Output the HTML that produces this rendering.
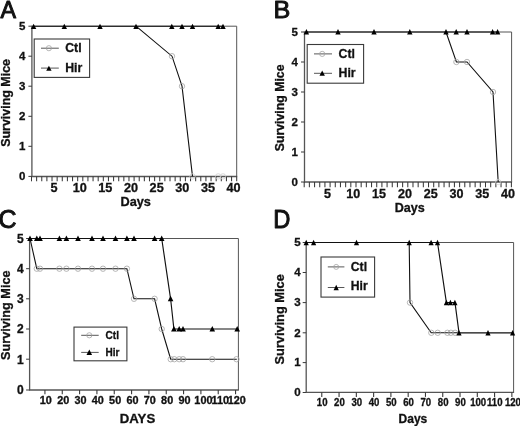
<!DOCTYPE html>
<html><head><meta charset="utf-8"><title>Surviving Mice</title>
<style>html,body{margin:0;padding:0;background:#fff}svg{display:block;filter:blur(0.35px)}text{font-family:"Liberation Sans",Arial,Helvetica,sans-serif;fill:#111;stroke:#111;stroke-width:0.3px}</style>
</head><body>
<svg width="520" height="426" viewBox="0 0 520 426">
<rect width="520" height="426" fill="#fff"/>
<path d="M31.9 26.2H236.7V176.5" fill="none" stroke="#555" stroke-width="1"/>
<path d="M31.9 25.7V176.5H237.2" fill="none" stroke="#555" stroke-width="1.3"/>
<path d="M28.4 26.2H31.9" stroke="#3a3a3a" stroke-width="1"/>
<text x="25.30" y="29.92" font-size="11.5" font-weight="bold" text-anchor="end" >5</text>
<path d="M28.4 56.2H31.9" stroke="#3a3a3a" stroke-width="1"/>
<text x="25.30" y="59.92" font-size="11.5" font-weight="bold" text-anchor="end" >4</text>
<path d="M28.4 86.2H31.9" stroke="#3a3a3a" stroke-width="1"/>
<text x="25.30" y="89.92" font-size="11.5" font-weight="bold" text-anchor="end" >3</text>
<path d="M28.4 116.3H31.9" stroke="#3a3a3a" stroke-width="1"/>
<text x="25.30" y="120.02" font-size="11.5" font-weight="bold" text-anchor="end" >2</text>
<path d="M28.4 146.3H31.9" stroke="#3a3a3a" stroke-width="1"/>
<text x="25.30" y="150.02" font-size="11.5" font-weight="bold" text-anchor="end" >1</text>
<path d="M28.4 176.4H31.9" stroke="#3a3a3a" stroke-width="1"/>
<text x="25.30" y="180.12" font-size="11.5" font-weight="bold" text-anchor="end" >0</text>
<path d="M31.50 176.5V181.3" stroke="#3a3a3a" stroke-width="1.05"/>
<path d="M36.63 176.5V181.3" stroke="#3a3a3a" stroke-width="1.05"/>
<path d="M41.76 176.5V181.3" stroke="#3a3a3a" stroke-width="1.05"/>
<path d="M46.89 176.5V181.3" stroke="#3a3a3a" stroke-width="1.05"/>
<path d="M52.02 176.5V181.3" stroke="#3a3a3a" stroke-width="1.05"/>
<path d="M57.15 176.5V181.3" stroke="#3a3a3a" stroke-width="1.05"/>
<path d="M62.28 176.5V181.3" stroke="#3a3a3a" stroke-width="1.05"/>
<path d="M67.41 176.5V181.3" stroke="#3a3a3a" stroke-width="1.05"/>
<path d="M72.54 176.5V181.3" stroke="#3a3a3a" stroke-width="1.05"/>
<path d="M77.67 176.5V181.3" stroke="#3a3a3a" stroke-width="1.05"/>
<path d="M82.80 176.5V181.3" stroke="#3a3a3a" stroke-width="1.05"/>
<path d="M87.93 176.5V181.3" stroke="#3a3a3a" stroke-width="1.05"/>
<path d="M93.06 176.5V181.3" stroke="#3a3a3a" stroke-width="1.05"/>
<path d="M98.19 176.5V181.3" stroke="#3a3a3a" stroke-width="1.05"/>
<path d="M103.32 176.5V181.3" stroke="#3a3a3a" stroke-width="1.05"/>
<path d="M108.45 176.5V181.3" stroke="#3a3a3a" stroke-width="1.05"/>
<path d="M113.58 176.5V181.3" stroke="#3a3a3a" stroke-width="1.05"/>
<path d="M118.71 176.5V181.3" stroke="#3a3a3a" stroke-width="1.05"/>
<path d="M123.84 176.5V181.3" stroke="#3a3a3a" stroke-width="1.05"/>
<path d="M128.97 176.5V181.3" stroke="#3a3a3a" stroke-width="1.05"/>
<path d="M134.10 176.5V181.3" stroke="#3a3a3a" stroke-width="1.05"/>
<path d="M139.23 176.5V181.3" stroke="#3a3a3a" stroke-width="1.05"/>
<path d="M144.36 176.5V181.3" stroke="#3a3a3a" stroke-width="1.05"/>
<path d="M149.49 176.5V181.3" stroke="#3a3a3a" stroke-width="1.05"/>
<path d="M154.62 176.5V181.3" stroke="#3a3a3a" stroke-width="1.05"/>
<path d="M159.75 176.5V181.3" stroke="#3a3a3a" stroke-width="1.05"/>
<path d="M164.88 176.5V181.3" stroke="#3a3a3a" stroke-width="1.05"/>
<path d="M170.01 176.5V181.3" stroke="#3a3a3a" stroke-width="1.05"/>
<path d="M175.14 176.5V181.3" stroke="#3a3a3a" stroke-width="1.05"/>
<path d="M180.27 176.5V181.3" stroke="#3a3a3a" stroke-width="1.05"/>
<path d="M185.40 176.5V181.3" stroke="#3a3a3a" stroke-width="1.05"/>
<path d="M190.53 176.5V181.3" stroke="#3a3a3a" stroke-width="1.05"/>
<path d="M195.66 176.5V181.3" stroke="#3a3a3a" stroke-width="1.05"/>
<path d="M200.79 176.5V181.3" stroke="#3a3a3a" stroke-width="1.05"/>
<path d="M205.92 176.5V181.3" stroke="#3a3a3a" stroke-width="1.05"/>
<path d="M211.05 176.5V181.3" stroke="#3a3a3a" stroke-width="1.05"/>
<path d="M216.18 176.5V181.3" stroke="#3a3a3a" stroke-width="1.05"/>
<path d="M221.31 176.5V181.3" stroke="#3a3a3a" stroke-width="1.05"/>
<path d="M226.44 176.5V181.3" stroke="#3a3a3a" stroke-width="1.05"/>
<path d="M231.57 176.5V181.3" stroke="#3a3a3a" stroke-width="1.05"/>
<path d="M236.70 176.5V181.3" stroke="#3a3a3a" stroke-width="1.05"/>
<text transform="translate(54.05 191.6) scale(1.03 1)" font-size="12.3" font-weight="bold" text-anchor="middle">5</text>
<text transform="translate(79.70 191.6) scale(1.03 1)" font-size="12.3" font-weight="bold" text-anchor="middle">10</text>
<text transform="translate(105.35 191.6) scale(1.03 1)" font-size="12.3" font-weight="bold" text-anchor="middle">15</text>
<text transform="translate(131.00 191.6) scale(1.03 1)" font-size="12.3" font-weight="bold" text-anchor="middle">20</text>
<text transform="translate(156.65 191.6) scale(1.03 1)" font-size="12.3" font-weight="bold" text-anchor="middle">25</text>
<text transform="translate(182.30 191.6) scale(1.03 1)" font-size="12.3" font-weight="bold" text-anchor="middle">30</text>
<text transform="translate(207.95 191.6) scale(1.03 1)" font-size="12.3" font-weight="bold" text-anchor="middle">35</text>
<text transform="translate(233.60 191.6) scale(1.03 1)" font-size="12.3" font-weight="bold" text-anchor="middle">40</text>
<text transform="translate(0.5 17.9) scale(0.97 1)" font-size="24" font-weight="normal" style="stroke:#111;stroke-width:0.95px;stroke-linejoin:round">A</text>
<text transform="translate(10.4 102.9) rotate(-90)" font-size="12.45" font-weight="bold" text-anchor="middle">Surviving Mice</text>
<text transform="translate(120.5 206.0) scale(1.035 1)" font-size="12.3" font-weight="bold">Days</text>
<rect x="34.2" y="39" width="55.4" height="38.4" fill="#fff" stroke="#3a3a3a" stroke-width="1.1"/>
<path d="M41 48.2H58.8M41 68.1H58.8" stroke="#444" stroke-width="0.9"/>
<circle cx="48.9" cy="48.2" r="2.6" fill="none" stroke="#a0a0a0" stroke-width="0.75"/>
<path d="M46.20 70.80L51.60 70.80L48.90 65.70Z" fill="#000"/>
<text x="65.20" y="51.90" font-size="12.3" font-weight="bold" text-anchor="start" >Ctl</text>
<text x="65.20" y="72.00" font-size="12.3" font-weight="bold" text-anchor="start" >Hir</text>
<polyline points="136.00,26.20 172.00,56.20 182.00,86.20 192.50,176.40" fill="none" stroke="#111" stroke-width="1.1" stroke-linejoin="miter"/>
<circle cx="172.00" cy="56.20" r="2.7" fill="none" stroke="#a0a0a0" stroke-width="0.75"/>
<circle cx="182.00" cy="86.20" r="2.7" fill="none" stroke="#a0a0a0" stroke-width="0.75"/>
<circle cx="192.50" cy="176.40" r="2.7" fill="none" stroke="#cfcfcf" stroke-width="0.75"/>
<circle cx="218.20" cy="176.40" r="2.7" fill="none" stroke="#cfcfcf" stroke-width="0.75"/>
<circle cx="223.00" cy="176.40" r="2.7" fill="none" stroke="#cfcfcf" stroke-width="0.75"/>
<polyline points="33.60,26.20 223.00,26.20" fill="none" stroke="#111" stroke-width="1.15" stroke-linejoin="miter"/>
<path d="M30.90 28.90L36.30 28.90L33.60 23.80Z" fill="#000"/>
<path d="M61.60 28.90L67.00 28.90L64.30 23.80Z" fill="#000"/>
<path d="M97.30 28.90L102.70 28.90L100.00 23.80Z" fill="#000"/>
<path d="M133.30 28.90L138.70 28.90L136.00 23.80Z" fill="#000"/>
<path d="M169.10 28.90L174.50 28.90L171.80 23.80Z" fill="#000"/>
<path d="M179.30 28.90L184.70 28.90L182.00 23.80Z" fill="#000"/>
<path d="M189.80 28.90L195.20 28.90L192.50 23.80Z" fill="#000"/>
<path d="M215.50 28.90L220.90 28.90L218.20 23.80Z" fill="#000"/>
<path d="M220.30 28.90L225.70 28.90L223.00 23.80Z" fill="#000"/>
<path d="M304.5 32H511.6V182" fill="none" stroke="#555" stroke-width="1"/>
<path d="M304.5 31.5V182H512.1" fill="none" stroke="#555" stroke-width="1.3"/>
<path d="M301.0 32H304.5" stroke="#3a3a3a" stroke-width="1"/>
<text x="298.00" y="35.52" font-size="11.5" font-weight="bold" text-anchor="end" >5</text>
<path d="M301.0 62H304.5" stroke="#3a3a3a" stroke-width="1"/>
<text x="298.00" y="65.52" font-size="11.5" font-weight="bold" text-anchor="end" >4</text>
<path d="M301.0 92H304.5" stroke="#3a3a3a" stroke-width="1"/>
<text x="298.00" y="95.52" font-size="11.5" font-weight="bold" text-anchor="end" >3</text>
<path d="M301.0 122H304.5" stroke="#3a3a3a" stroke-width="1"/>
<text x="298.00" y="125.52" font-size="11.5" font-weight="bold" text-anchor="end" >2</text>
<path d="M301.0 152H304.5" stroke="#3a3a3a" stroke-width="1"/>
<text x="298.00" y="155.52" font-size="11.5" font-weight="bold" text-anchor="end" >1</text>
<path d="M301.0 182H304.5" stroke="#3a3a3a" stroke-width="1"/>
<text x="298.00" y="185.52" font-size="11.5" font-weight="bold" text-anchor="end" >0</text>
<path d="M304.20 182V187.3" stroke="#3a3a3a" stroke-width="1.05"/>
<path d="M309.38 182V187.3" stroke="#3a3a3a" stroke-width="1.05"/>
<path d="M314.56 182V187.3" stroke="#3a3a3a" stroke-width="1.05"/>
<path d="M319.74 182V187.3" stroke="#3a3a3a" stroke-width="1.05"/>
<path d="M324.92 182V187.3" stroke="#3a3a3a" stroke-width="1.05"/>
<path d="M330.10 182V187.3" stroke="#3a3a3a" stroke-width="1.05"/>
<path d="M335.28 182V187.3" stroke="#3a3a3a" stroke-width="1.05"/>
<path d="M340.46 182V187.3" stroke="#3a3a3a" stroke-width="1.05"/>
<path d="M345.64 182V187.3" stroke="#3a3a3a" stroke-width="1.05"/>
<path d="M350.82 182V187.3" stroke="#3a3a3a" stroke-width="1.05"/>
<path d="M356.00 182V187.3" stroke="#3a3a3a" stroke-width="1.05"/>
<path d="M361.18 182V187.3" stroke="#3a3a3a" stroke-width="1.05"/>
<path d="M366.36 182V187.3" stroke="#3a3a3a" stroke-width="1.05"/>
<path d="M371.54 182V187.3" stroke="#3a3a3a" stroke-width="1.05"/>
<path d="M376.72 182V187.3" stroke="#3a3a3a" stroke-width="1.05"/>
<path d="M381.90 182V187.3" stroke="#3a3a3a" stroke-width="1.05"/>
<path d="M387.08 182V187.3" stroke="#3a3a3a" stroke-width="1.05"/>
<path d="M392.26 182V187.3" stroke="#3a3a3a" stroke-width="1.05"/>
<path d="M397.44 182V187.3" stroke="#3a3a3a" stroke-width="1.05"/>
<path d="M402.62 182V187.3" stroke="#3a3a3a" stroke-width="1.05"/>
<path d="M407.80 182V187.3" stroke="#3a3a3a" stroke-width="1.05"/>
<path d="M412.98 182V187.3" stroke="#3a3a3a" stroke-width="1.05"/>
<path d="M418.16 182V187.3" stroke="#3a3a3a" stroke-width="1.05"/>
<path d="M423.34 182V187.3" stroke="#3a3a3a" stroke-width="1.05"/>
<path d="M428.52 182V187.3" stroke="#3a3a3a" stroke-width="1.05"/>
<path d="M433.70 182V187.3" stroke="#3a3a3a" stroke-width="1.05"/>
<path d="M438.88 182V187.3" stroke="#3a3a3a" stroke-width="1.05"/>
<path d="M444.06 182V187.3" stroke="#3a3a3a" stroke-width="1.05"/>
<path d="M449.24 182V187.3" stroke="#3a3a3a" stroke-width="1.05"/>
<path d="M454.42 182V187.3" stroke="#3a3a3a" stroke-width="1.05"/>
<path d="M459.60 182V187.3" stroke="#3a3a3a" stroke-width="1.05"/>
<path d="M464.78 182V187.3" stroke="#3a3a3a" stroke-width="1.05"/>
<path d="M469.96 182V187.3" stroke="#3a3a3a" stroke-width="1.05"/>
<path d="M475.14 182V187.3" stroke="#3a3a3a" stroke-width="1.05"/>
<path d="M480.32 182V187.3" stroke="#3a3a3a" stroke-width="1.05"/>
<path d="M485.50 182V187.3" stroke="#3a3a3a" stroke-width="1.05"/>
<path d="M490.68 182V187.3" stroke="#3a3a3a" stroke-width="1.05"/>
<path d="M495.86 182V187.3" stroke="#3a3a3a" stroke-width="1.05"/>
<path d="M501.04 182V187.3" stroke="#3a3a3a" stroke-width="1.05"/>
<path d="M506.22 182V187.3" stroke="#3a3a3a" stroke-width="1.05"/>
<path d="M511.40 182V187.3" stroke="#3a3a3a" stroke-width="1.05"/>
<text transform="translate(327.50 198.1) scale(1.03 1)" font-size="12.2" font-weight="bold" text-anchor="middle">5</text>
<text transform="translate(353.30 198.1) scale(1.03 1)" font-size="12.2" font-weight="bold" text-anchor="middle">10</text>
<text transform="translate(379.10 198.1) scale(1.03 1)" font-size="12.2" font-weight="bold" text-anchor="middle">15</text>
<text transform="translate(404.90 198.1) scale(1.03 1)" font-size="12.2" font-weight="bold" text-anchor="middle">20</text>
<text transform="translate(430.70 198.1) scale(1.03 1)" font-size="12.2" font-weight="bold" text-anchor="middle">25</text>
<text transform="translate(456.50 198.1) scale(1.03 1)" font-size="12.2" font-weight="bold" text-anchor="middle">30</text>
<text transform="translate(482.30 198.1) scale(1.03 1)" font-size="12.2" font-weight="bold" text-anchor="middle">35</text>
<text transform="translate(508.10 198.1) scale(1.03 1)" font-size="12.2" font-weight="bold" text-anchor="middle">40</text>
<text transform="translate(273.5 18.0) scale(1.05 1)" font-size="24" font-weight="normal" style="stroke:#111;stroke-width:0.95px;stroke-linejoin:round">B</text>
<text transform="translate(284.3 107.9) rotate(-90)" font-size="12.3" font-weight="bold" text-anchor="middle">Surviving Mice</text>
<text transform="translate(394.8 211.7) scale(1.03 1)" font-size="12.2" font-weight="bold">Days</text>
<rect x="307.2" y="44.5" width="56.4" height="38.7" fill="#fff" stroke="#3a3a3a" stroke-width="1.1"/>
<path d="M314 53.9H332M314 73.3H332" stroke="#444" stroke-width="0.9"/>
<circle cx="322.2" cy="53.9" r="2.6" fill="none" stroke="#a0a0a0" stroke-width="0.75"/>
<path d="M319.50 75.70L324.90 75.70L322.20 70.40Z" fill="#000"/>
<text x="338.50" y="57.70" font-size="12.3" font-weight="bold" text-anchor="start" >Ctl</text>
<text x="338.50" y="77.30" font-size="12.3" font-weight="bold" text-anchor="start" >Hir</text>
<polyline points="446.00,32.00 456.40,62.00 467.00,62.00 493.00,92.00 498.20,182.00" fill="none" stroke="#111" stroke-width="1.1" stroke-linejoin="miter"/>
<circle cx="456.40" cy="62.00" r="2.7" fill="none" stroke="#a0a0a0" stroke-width="0.75"/>
<circle cx="467.00" cy="62.00" r="2.7" fill="none" stroke="#a0a0a0" stroke-width="0.75"/>
<circle cx="493.00" cy="92.00" r="2.7" fill="none" stroke="#a0a0a0" stroke-width="0.75"/>
<circle cx="498.20" cy="182.00" r="2.7" fill="none" stroke="#cfcfcf" stroke-width="0.75"/>
<polyline points="306.40,32.00 497.60,32.00" fill="none" stroke="#111" stroke-width="1.15" stroke-linejoin="miter"/>
<path d="M303.70 34.40L309.10 34.40L306.40 29.10Z" fill="#000"/>
<path d="M335.30 34.40L340.70 34.40L338.00 29.10Z" fill="#000"/>
<path d="M371.30 34.40L376.70 34.40L374.00 29.10Z" fill="#000"/>
<path d="M407.10 34.40L412.50 34.40L409.80 29.10Z" fill="#000"/>
<path d="M443.30 34.40L448.70 34.40L446.00 29.10Z" fill="#000"/>
<path d="M453.50 34.40L458.90 34.40L456.20 29.10Z" fill="#000"/>
<path d="M464.30 34.40L469.70 34.40L467.00 29.10Z" fill="#000"/>
<path d="M489.90 34.40L495.30 34.40L492.60 29.10Z" fill="#000"/>
<path d="M494.90 34.40L500.30 34.40L497.60 29.10Z" fill="#000"/>
<path d="M29.6 238.5H238.4V390" fill="none" stroke="#555" stroke-width="1"/>
<path d="M29.6 238.0V390H238.9" fill="none" stroke="#555" stroke-width="1.3"/>
<path d="M26.1 238.5H29.6" stroke="#3a3a3a" stroke-width="1"/>
<text x="23.70" y="242.80" font-size="12" font-weight="bold" text-anchor="end" >5</text>
<path d="M26.1 268.7H29.6" stroke="#3a3a3a" stroke-width="1"/>
<text x="23.70" y="273.00" font-size="12" font-weight="bold" text-anchor="end" >4</text>
<path d="M26.1 298.8H29.6" stroke="#3a3a3a" stroke-width="1"/>
<text x="23.70" y="303.10" font-size="12" font-weight="bold" text-anchor="end" >3</text>
<path d="M26.1 329H29.6" stroke="#3a3a3a" stroke-width="1"/>
<text x="23.70" y="333.30" font-size="12" font-weight="bold" text-anchor="end" >2</text>
<path d="M26.1 359.2H29.6" stroke="#3a3a3a" stroke-width="1"/>
<text x="23.70" y="363.50" font-size="12" font-weight="bold" text-anchor="end" >1</text>
<path d="M26.1 390H29.6" stroke="#3a3a3a" stroke-width="1"/>
<text x="23.70" y="394.30" font-size="12" font-weight="bold" text-anchor="end" >0</text>
<path d="M44.93 390V394.3" stroke="#3a3a3a" stroke-width="1.1"/>
<path d="M62.26 390V394.3" stroke="#3a3a3a" stroke-width="1.1"/>
<path d="M79.59 390V394.3" stroke="#3a3a3a" stroke-width="1.1"/>
<path d="M96.92 390V394.3" stroke="#3a3a3a" stroke-width="1.1"/>
<path d="M114.25 390V394.3" stroke="#3a3a3a" stroke-width="1.1"/>
<path d="M131.58 390V394.3" stroke="#3a3a3a" stroke-width="1.1"/>
<path d="M148.91 390V394.3" stroke="#3a3a3a" stroke-width="1.1"/>
<path d="M166.24 390V394.3" stroke="#3a3a3a" stroke-width="1.1"/>
<path d="M183.57 390V394.3" stroke="#3a3a3a" stroke-width="1.1"/>
<path d="M200.90 390V394.3" stroke="#3a3a3a" stroke-width="1.1"/>
<path d="M218.23 390V394.3" stroke="#3a3a3a" stroke-width="1.1"/>
<path d="M235.56 390V394.3" stroke="#3a3a3a" stroke-width="1.1"/>
<text transform="translate(45.83 403.7) scale(1.085 1)" font-size="10" font-weight="bold" text-anchor="middle">10</text>
<text transform="translate(63.16 403.7) scale(1.085 1)" font-size="10" font-weight="bold" text-anchor="middle">20</text>
<text transform="translate(80.49 403.7) scale(1.085 1)" font-size="10" font-weight="bold" text-anchor="middle">30</text>
<text transform="translate(97.82 403.7) scale(1.085 1)" font-size="10" font-weight="bold" text-anchor="middle">40</text>
<text transform="translate(115.15 403.7) scale(1.085 1)" font-size="10" font-weight="bold" text-anchor="middle">50</text>
<text transform="translate(132.48 403.7) scale(1.085 1)" font-size="10" font-weight="bold" text-anchor="middle">60</text>
<text transform="translate(149.81 403.7) scale(1.085 1)" font-size="10" font-weight="bold" text-anchor="middle">70</text>
<text transform="translate(167.14 403.7) scale(1.085 1)" font-size="10" font-weight="bold" text-anchor="middle">80</text>
<text transform="translate(184.47 403.7) scale(1.085 1)" font-size="10" font-weight="bold" text-anchor="middle">90</text>
<text transform="translate(203.40 403.7) scale(1.085 1)" font-size="10" font-weight="bold" text-anchor="middle">100</text>
<text transform="translate(220.30 403.7) scale(1.085 1)" font-size="10" font-weight="bold" text-anchor="middle">110</text>
<text transform="translate(236.70 403.7) scale(1.085 1)" font-size="10" font-weight="bold" text-anchor="middle">120</text>
<text transform="translate(-1.4 227.6) scale(1.0 1)" font-size="25" font-weight="normal" style="stroke:#111;stroke-width:0.95px;stroke-linejoin:round">C</text>
<text transform="translate(10.4 315.2) rotate(-90)" font-size="12.7" font-weight="bold" text-anchor="middle">Surviving Mice</text>
<text transform="translate(119.8 423.1) scale(1.055 1)" font-size="12.5" font-weight="bold">DAYS</text>
<rect x="74" y="327.1" width="52.9" height="33.7" fill="#fff" stroke="#3a3a3a" stroke-width="1.1"/>
<path d="M81.2 335.3H98.7M81.2 352.4H98.7" stroke="#444" stroke-width="0.9"/>
<circle cx="89.3" cy="335.3" r="2.6" fill="none" stroke="#a0a0a0" stroke-width="0.75"/>
<path d="M86.50 354.90L92.10 354.90L89.30 349.40Z" fill="#000"/>
<text x="105.60" y="338.80" font-size="10" font-weight="bold" text-anchor="start" >Ctl</text>
<text x="105.60" y="355.90" font-size="10" font-weight="bold" text-anchor="start" >Hir</text>
<polyline points="30.00,238.50 36.80,268.70 126.90,268.70 134.00,298.80 154.60,298.80 161.70,329.00 170.70,359.20 236.80,359.20" fill="none" stroke="#111" stroke-width="1.1" stroke-linejoin="miter"/>
<circle cx="36.80" cy="268.70" r="2.7" fill="none" stroke="#a0a0a0" stroke-width="0.75"/>
<circle cx="40.00" cy="268.70" r="2.7" fill="none" stroke="#a0a0a0" stroke-width="0.75"/>
<circle cx="59.40" cy="268.70" r="2.7" fill="none" stroke="#a0a0a0" stroke-width="0.75"/>
<circle cx="66.40" cy="268.70" r="2.7" fill="none" stroke="#a0a0a0" stroke-width="0.75"/>
<circle cx="78.00" cy="268.70" r="2.7" fill="none" stroke="#a0a0a0" stroke-width="0.75"/>
<circle cx="92.00" cy="268.70" r="2.7" fill="none" stroke="#a0a0a0" stroke-width="0.75"/>
<circle cx="103.00" cy="268.70" r="2.7" fill="none" stroke="#a0a0a0" stroke-width="0.75"/>
<circle cx="115.50" cy="268.70" r="2.7" fill="none" stroke="#a0a0a0" stroke-width="0.75"/>
<circle cx="126.90" cy="268.70" r="2.7" fill="none" stroke="#a0a0a0" stroke-width="0.75"/>
<circle cx="134.00" cy="298.80" r="2.7" fill="none" stroke="#a0a0a0" stroke-width="0.75"/>
<circle cx="154.60" cy="298.80" r="2.7" fill="none" stroke="#a0a0a0" stroke-width="0.75"/>
<circle cx="161.70" cy="329.00" r="2.7" fill="none" stroke="#a0a0a0" stroke-width="0.75"/>
<circle cx="170.70" cy="359.20" r="2.7" fill="none" stroke="#a0a0a0" stroke-width="0.75"/>
<circle cx="174.30" cy="359.20" r="2.7" fill="none" stroke="#a0a0a0" stroke-width="0.75"/>
<circle cx="179.20" cy="359.20" r="2.7" fill="none" stroke="#a0a0a0" stroke-width="0.75"/>
<circle cx="183.00" cy="359.20" r="2.7" fill="none" stroke="#a0a0a0" stroke-width="0.75"/>
<circle cx="212.20" cy="359.20" r="2.7" fill="none" stroke="#a0a0a0" stroke-width="0.75"/>
<circle cx="236.50" cy="359.20" r="2.7" fill="none" stroke="#a0a0a0" stroke-width="0.75"/>
<polyline points="30.00,238.50 161.70,238.50 170.60,298.80 173.90,329.00 237.00,329.00" fill="none" stroke="#111" stroke-width="1.15" stroke-linejoin="miter"/>
<path d="M27.20 241.00L32.80 241.00L30.00 235.50Z" fill="#000"/>
<path d="M34.00 241.00L39.60 241.00L36.80 235.50Z" fill="#000"/>
<path d="M37.20 241.00L42.80 241.00L40.00 235.50Z" fill="#000"/>
<path d="M56.60 241.00L62.20 241.00L59.40 235.50Z" fill="#000"/>
<path d="M63.60 241.00L69.20 241.00L66.40 235.50Z" fill="#000"/>
<path d="M75.20 241.00L80.80 241.00L78.00 235.50Z" fill="#000"/>
<path d="M89.20 241.00L94.80 241.00L92.00 235.50Z" fill="#000"/>
<path d="M100.20 241.00L105.80 241.00L103.00 235.50Z" fill="#000"/>
<path d="M112.70 241.00L118.30 241.00L115.50 235.50Z" fill="#000"/>
<path d="M124.10 241.00L129.70 241.00L126.90 235.50Z" fill="#000"/>
<path d="M131.20 241.00L136.80 241.00L134.00 235.50Z" fill="#000"/>
<path d="M151.80 241.00L157.40 241.00L154.60 235.50Z" fill="#000"/>
<path d="M158.90 241.00L164.50 241.00L161.70 235.50Z" fill="#000"/>
<path d="M167.80 301.30L173.40 301.30L170.60 295.80Z" fill="#000"/>
<path d="M171.10 331.50L176.70 331.50L173.90 326.00Z" fill="#000"/>
<path d="M176.40 331.50L182.00 331.50L179.20 326.00Z" fill="#000"/>
<path d="M180.20 331.50L185.80 331.50L183.00 326.00Z" fill="#000"/>
<path d="M209.50 331.50L215.10 331.50L212.30 326.00Z" fill="#000"/>
<path d="M234.40 331.50L240.00 331.50L237.20 326.00Z" fill="#000"/>
<path d="M306.2 242.5H513.6V392.3" fill="none" stroke="#555" stroke-width="1"/>
<path d="M306.2 242.0V392.3H514.1" fill="none" stroke="#555" stroke-width="1.3"/>
<path d="M302.7 242.5H306.2" stroke="#3a3a3a" stroke-width="1"/>
<text x="300.60" y="246.22" font-size="11.5" font-weight="bold" text-anchor="end" >5</text>
<path d="M302.7 272.5H306.2" stroke="#3a3a3a" stroke-width="1"/>
<text x="300.60" y="276.22" font-size="11.5" font-weight="bold" text-anchor="end" >4</text>
<path d="M302.7 302.6H306.2" stroke="#3a3a3a" stroke-width="1"/>
<text x="300.60" y="306.32" font-size="11.5" font-weight="bold" text-anchor="end" >3</text>
<path d="M302.7 332.8H306.2" stroke="#3a3a3a" stroke-width="1"/>
<text x="300.60" y="336.52" font-size="11.5" font-weight="bold" text-anchor="end" >2</text>
<path d="M302.7 362.6H306.2" stroke="#3a3a3a" stroke-width="1"/>
<text x="300.60" y="366.32" font-size="11.5" font-weight="bold" text-anchor="end" >1</text>
<path d="M302.7 392.5H306.2" stroke="#3a3a3a" stroke-width="1"/>
<text x="300.60" y="396.22" font-size="11.5" font-weight="bold" text-anchor="end" >0</text>
<path d="M321.78 392.3V396.90000000000003" stroke="#3a3a3a" stroke-width="1.1"/>
<path d="M339.06 392.3V396.90000000000003" stroke="#3a3a3a" stroke-width="1.1"/>
<path d="M356.34 392.3V396.90000000000003" stroke="#3a3a3a" stroke-width="1.1"/>
<path d="M373.62 392.3V396.90000000000003" stroke="#3a3a3a" stroke-width="1.1"/>
<path d="M390.90 392.3V396.90000000000003" stroke="#3a3a3a" stroke-width="1.1"/>
<path d="M408.18 392.3V396.90000000000003" stroke="#3a3a3a" stroke-width="1.1"/>
<path d="M425.46 392.3V396.90000000000003" stroke="#3a3a3a" stroke-width="1.1"/>
<path d="M442.74 392.3V396.90000000000003" stroke="#3a3a3a" stroke-width="1.1"/>
<path d="M460.02 392.3V396.90000000000003" stroke="#3a3a3a" stroke-width="1.1"/>
<path d="M477.30 392.3V396.90000000000003" stroke="#3a3a3a" stroke-width="1.1"/>
<path d="M494.58 392.3V396.90000000000003" stroke="#3a3a3a" stroke-width="1.1"/>
<path d="M511.86 392.3V396.90000000000003" stroke="#3a3a3a" stroke-width="1.1"/>
<text transform="translate(322.18 406.3) scale(0.96 1)" font-size="10" font-weight="bold" text-anchor="middle">10</text>
<text transform="translate(339.46 406.3) scale(0.96 1)" font-size="10" font-weight="bold" text-anchor="middle">20</text>
<text transform="translate(356.74 406.3) scale(0.96 1)" font-size="10" font-weight="bold" text-anchor="middle">30</text>
<text transform="translate(374.02 406.3) scale(0.96 1)" font-size="10" font-weight="bold" text-anchor="middle">40</text>
<text transform="translate(391.30 406.3) scale(0.96 1)" font-size="10" font-weight="bold" text-anchor="middle">50</text>
<text transform="translate(408.58 406.3) scale(0.96 1)" font-size="10" font-weight="bold" text-anchor="middle">60</text>
<text transform="translate(425.86 406.3) scale(0.96 1)" font-size="10" font-weight="bold" text-anchor="middle">70</text>
<text transform="translate(443.14 406.3) scale(0.96 1)" font-size="10" font-weight="bold" text-anchor="middle">80</text>
<text transform="translate(460.42 406.3) scale(0.96 1)" font-size="10" font-weight="bold" text-anchor="middle">90</text>
<text transform="translate(478.20 406.3) scale(0.96 1)" font-size="10" font-weight="bold" text-anchor="middle">100</text>
<text transform="translate(494.80 406.3) scale(0.96 1)" font-size="10" font-weight="bold" text-anchor="middle">110</text>
<text transform="translate(512.90 406.3) scale(0.96 1)" font-size="10" font-weight="bold" text-anchor="middle">120</text>
<text transform="translate(273.3 227.7) scale(0.95 1)" font-size="25" font-weight="normal" style="stroke:#111;stroke-width:0.95px;stroke-linejoin:round">D</text>
<text transform="translate(284.0 319.4) rotate(-90)" font-size="12.8" font-weight="bold" text-anchor="middle">Surviving Mice</text>
<text transform="translate(398.6 422.5) scale(1 1)" font-size="12" font-weight="bold">Days</text>
<rect x="321" y="257" width="53.6" height="40.1" fill="#fff" stroke="#3a3a3a" stroke-width="1.1"/>
<path d="M327.8 266.9H344.4M327.8 287.5H344.4" stroke="#444" stroke-width="0.9"/>
<circle cx="336.2" cy="266.9" r="2.5" fill="none" stroke="#a0a0a0" stroke-width="0.75"/>
<path d="M333.60 290.20L338.80 290.20L336.20 284.70Z" fill="#000"/>
<text x="350.80" y="270.55" font-size="12.2" font-weight="bold" text-anchor="start" >Ctl</text>
<text x="350.80" y="289.90" font-size="12.2" font-weight="bold" text-anchor="start" >Hir</text>
<polyline points="409.20,242.50 410.00,302.60 431.20,332.80 459.00,332.80" fill="none" stroke="#111" stroke-width="1.1" stroke-linejoin="miter"/>
<circle cx="410.00" cy="302.60" r="2.7" fill="none" stroke="#a0a0a0" stroke-width="0.75"/>
<circle cx="431.30" cy="332.80" r="2.7" fill="none" stroke="#a0a0a0" stroke-width="0.75"/>
<circle cx="437.70" cy="332.80" r="2.7" fill="none" stroke="#a0a0a0" stroke-width="0.75"/>
<circle cx="447.40" cy="332.80" r="2.7" fill="none" stroke="#a0a0a0" stroke-width="0.75"/>
<circle cx="450.90" cy="332.80" r="2.7" fill="none" stroke="#a0a0a0" stroke-width="0.75"/>
<circle cx="455.10" cy="332.80" r="2.7" fill="none" stroke="#a0a0a0" stroke-width="0.75"/>
<polyline points="306.20,242.50 437.50,242.50 446.40,302.60 455.00,302.60 459.00,332.80 512.60,332.80" fill="none" stroke="#111" stroke-width="1.15" stroke-linejoin="miter"/>
<path d="M303.60 245.20L308.80 245.20L306.20 239.70Z" fill="#000"/>
<path d="M311.00 245.20L316.20 245.20L313.60 239.70Z" fill="#000"/>
<path d="M353.90 245.20L359.10 245.20L356.50 239.70Z" fill="#000"/>
<path d="M406.60 245.20L411.80 245.20L409.20 239.70Z" fill="#000"/>
<path d="M428.50 245.20L433.70 245.20L431.10 239.70Z" fill="#000"/>
<path d="M434.90 245.20L440.10 245.20L437.50 239.70Z" fill="#000"/>
<path d="M443.80 305.30L449.00 305.30L446.40 299.80Z" fill="#000"/>
<path d="M447.80 305.30L453.00 305.30L450.40 299.80Z" fill="#000"/>
<path d="M452.30 305.30L457.50 305.30L454.90 299.80Z" fill="#000"/>
<path d="M456.40 335.50L461.60 335.50L459.00 330.00Z" fill="#000"/>
<path d="M485.40 335.50L490.60 335.50L488.00 330.00Z" fill="#000"/>
<path d="M510.00 335.50L515.20 335.50L512.60 330.00Z" fill="#000"/>
</svg>
</body></html>
